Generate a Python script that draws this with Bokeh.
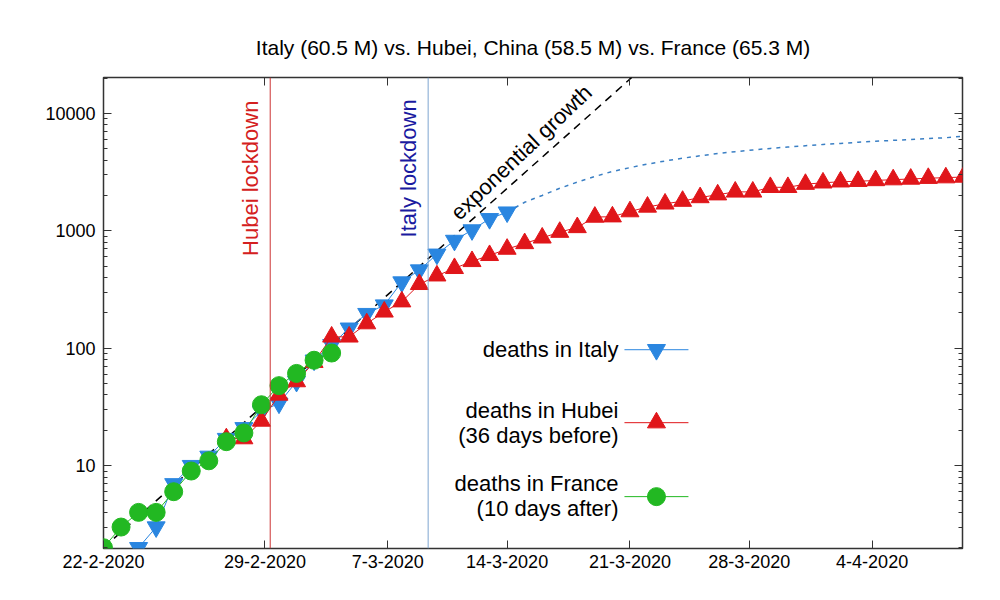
import numpy as np
from bokeh.plotting import figure
from bokeh.models import Span, Label, FixedTicker, LogAxis, LinearAxis, Range1d, LogTicker, CustomJSTickFormatter
from bokeh.embed import file_html
from bokeh.resources import INLINE

# day index 0 .. ~49 (one marker per day)
italy_day = list(range(2, 24))
italy_deaths = [2, 3, 7, 10, 12, 17, 21, 29, 34, 52, 79, 107, 148, 197, 233, 366, 463, 631, 827, 1016, 1266, 1441]
hubei_day = list(range(7, 50))
hubei_deaths = [17, 17, 24, 40, 52, 76, 125, 125, 162, 204, 249, 350, 414, 479, 549, 618, 699, 780, 871, 974,
                1068, 1310, 1318, 1457, 1596, 1696, 1789, 1921, 2029, 2144, 2144, 2346, 2346, 2495, 2563, 2615,
                2641, 2682, 2727, 2761, 2803, 2835, 2871]
france_day = list(range(0, 14))
france_deaths = [2, 3, 4, 4, 6, 9, 11, 16, 19, 33, 48, 61, 79, 91]
proj_day = list(range(23, 50))
proj_deaths = [1441, 1750, 2000, 2300, 2600, 2900, 3200, 3450, 3700, 3930, 4150, 4350, 4550, 4720, 4880,
               5030, 5170, 5300, 5430, 5550, 5670, 5780, 5890, 5990, 6100, 6200, 6400]
exp_day = [0, 30.1]
exp_deaths = [2, 20200]
tick_days = [0, 9.2, 16.2, 23, 30, 36.8, 43.8]
tick_labels = ["22-2-2020", "29-2-2020", "7-3-2020", "14-3-2020", "21-3-2020", "28-3-2020", "4-4-2020"]
hubei_lock = 9.5
italy_lock = 18.5

FONT = "Liberation Sans"
BLUE, RED, GREEN = "#2a86e0", "#e0161a", "#22b822"

p = figure(width=992, height=592, output_backend="svg", toolbar_location=None,
           y_axis_type="log", x_range=Range1d(0, 48.95), y_range=Range1d(1.97, 20200),
           min_border_left=103, min_border_right=30, min_border_top=77, min_border_bottom=44)
p.title.text = "Italy (60.5 M) vs. Hubei, China (58.5 M) vs. France (65.3 M)"
p.title.align = "center"
p.title.text_font = FONT
p.title.text_font_size = "21px"
p.title.text_font_style = "normal"
p.title.text_color = "black"
p.title.standoff = 38
p.grid.visible = False
p.outline_line_color = "#333333"
p.outline_line_width = 1.5

blank = CustomJSTickFormatter(code="return ''")
p.xaxis.ticker = FixedTicker(ticks=tick_days)
p.xaxis.major_label_overrides = {d: l for d, l in zip(tick_days, tick_labels)}
p.yaxis.ticker = LogTicker(num_minor_ticks=10)
p.yaxis.formatter = CustomJSTickFormatter(code="return String(Math.round(tick))")

ra = LogAxis(ticker=LogTicker(num_minor_ticks=10), formatter=blank)
p.add_layout(ra, "right")
ta = LinearAxis(ticker=FixedTicker(ticks=tick_days), formatter=blank)
p.add_layout(ta, "above")

for ax in p.xaxis + p.yaxis + [ra, ta]:
    ax.major_label_text_font = FONT
    ax.major_label_text_font_size = "18px"
    ax.major_label_text_color = "black"
    ax.axis_line_color = None
    ax.major_tick_in = 8
    ax.major_tick_out = 0
    ax.minor_tick_in = 4
    ax.minor_tick_out = 0
    ax.major_tick_line_color = "#333333"
    ax.minor_tick_line_color = "#333333"
ta.minor_tick_line_color = None
p.xaxis[0].minor_tick_line_color = None
p.yaxis.major_label_standoff = 8
p.xaxis.major_label_standoff = 6

p.add_layout(Span(location=hubei_lock, dimension="height", line_color="#cc3333", line_width=1))
p.add_layout(Span(location=italy_lock, dimension="height", line_color="#7fa6d0", line_width=1))

p.line(exp_day, exp_deaths, line_color="black", line_dash="8 6", line_width=1.5)
p.line(proj_day, proj_deaths, line_color="#3a7fc4", line_dash="4 5", line_width=1.5)

p.line(italy_day, italy_deaths, line_color=BLUE, line_width=1)
p.scatter(italy_day, italy_deaths, marker="inverted_triangle", size=18, fill_color=BLUE, line_color=BLUE)
p.line(hubei_day, hubei_deaths, line_color=RED, line_width=1)
p.scatter(hubei_day, hubei_deaths, marker="triangle", size=18, fill_color=RED, line_color=RED)
p.line(france_day, france_deaths, line_color=GREEN, line_width=1)
p.scatter(france_day, france_deaths, marker="circle", size=18, fill_color=GREEN, line_color=GREEN)

# annotations
p.add_layout(Label(x=hubei_lock - 0.4, y=2800, text="Hubei lockdown", angle=np.pi / 2, angle_units="rad",
                   text_font=FONT, text_font_size="22px", text_color="#d42020", text_baseline="bottom", text_align="center"))
p.add_layout(Label(x=italy_lock - 0.4, y=3400, text="Italy lockdown", angle=np.pi / 2, angle_units="rad",
                   text_font=FONT, text_font_size="22px", text_color="#1a1aa0", text_baseline="bottom", text_align="center"))
p.add_layout(Label(x=24.3, y=3900, text="exponential growth", angle=43.5, angle_units="deg",
                   text_font=FONT, text_font_size="22px", text_color="black", text_baseline="bottom", text_align="center"))

def yv(py):
    return 10 ** (1 + (465 - py) / 117.5)

def xv(px):
    return (px - 103) / 17.55

legend = [("deaths in Italy", [349], 349, "inverted_triangle", BLUE),
          ("deaths in Hubei", [410, 435], 422, "triangle", RED),
          ("deaths in France", [483, 508], 496, "circle", GREEN)]
subs = {"deaths in Hubei": "(36 days before)", "deaths in France": "(10 days after)"}
for name, rows, my, mk, col in legend:
    texts = [name] + ([subs[name]] if name in subs else [])
    for t, r in zip(texts, rows):
        p.add_layout(Label(x=xv(618), y=yv(r), text=t, text_font=FONT, text_font_size="22px",
                           text_color="black", text_align="right", text_baseline="middle"))
    p.line([xv(624), xv(688)], [yv(my), yv(my)], line_color=col, line_width=1)
    p.scatter([xv(656)], [yv(my)], marker=mk, size=18, fill_color=col, line_color=col)

open("out.html", "w").write(file_html(p, INLINE))
